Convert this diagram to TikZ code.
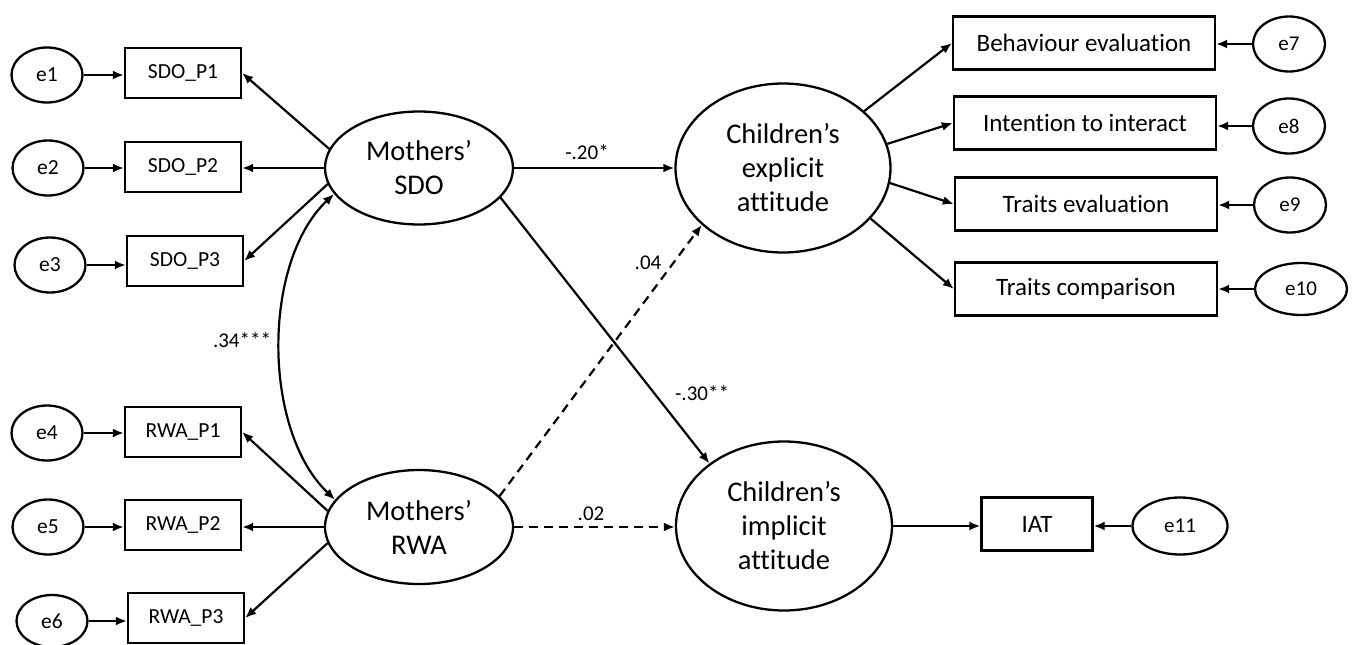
\documentclass[tikz,border=0pt]{standalone}
\usepackage{fontspec}
\setmainfont{Carlito}[Ligatures=NoCommon]
\usetikzlibrary{shapes.geometric,arrows.meta}
\tikzset{
  lat/.style={ellipse,draw,line width=2.3pt,inner sep=0pt,align=center,font=\fontsize{28.5}{34}\selectfont},
  err/.style={ellipse,draw,line width=2.3pt,inner sep=0pt,minimum width=71pt,minimum height=55pt,font=\fontsize{21.5}{25}\selectfont},
  obs/.style={rectangle,draw,line width=2.3pt,inner sep=0pt,minimum width=116pt,minimum height=50pt,font=\fontsize{21.5}{25}\selectfont},
  big/.style={rectangle,draw,line width=2.3pt,inner sep=0pt,minimum width=262pt,minimum height=53pt,font=\fontsize{25}{29}\selectfont},
  arr/.style={line width=2.2pt,-{Latex[length=11pt,width=9pt]}},
  darr/.style={line width=2.2pt,{Latex[length=11pt,width=9pt]}-{Latex[length=11pt,width=9pt]}},
  dsh/.style={arr,dash pattern=on 9pt off 6pt},
  lbl/.style={inner sep=0pt,font=\fontsize{21}{24}\selectfont}
}
\begin{document}
\begin{tikzpicture}[x=1pt,y=-1pt]
\useasboundingbox (0,0) rectangle (1355,645);
% latent variables
\node[lat,minimum width=188pt,minimum height=113pt] (sdo) at (419,168) {Mothers’\\SDO};
\node[lat,minimum width=188pt,minimum height=114pt] (rwa) at (419,527) {Mothers’\\RWA};
\node[lat,minimum width=215pt,minimum height=169pt] (exp) at (783,168) {Children’s\\explicit\\attitude};
\node[lat,minimum width=216pt,minimum height=169pt] (imp) at (784,526) {Children’s\\implicit\\attitude};
% indicators left
\node[obs] (p1) at (183,73) {SDO\_P1};
\node[obs] (p2) at (183,167) {SDO\_P2};
\node[obs] (p3) at (185,261) {SDO\_P3};
\node[obs] (r1) at (183,432) {RWA\_P1};
\node[obs] (r2) at (183,525) {RWA\_P2};
\node[obs] (r3) at (186,618) {RWA\_P3};
% errors left
\node[err] (e1) at (47,75) {e1};
\node[err] (e2) at (48,168) {e2};
\node[err] (e3) at (50,265) {e3};
\node[err] (e4) at (47,433) {e4};
\node[err] (e5) at (48,527) {e5};
\node[err,minimum height=52pt] (e6) at (52,621) {e6};
% indicators right
\node[big] (b1) at (1084,43) {Behaviour evaluation};
\node[big] (b2) at (1085,123) {Intention to interact};
\node[big] (b3) at (1086,204) {Traits evaluation};
\node[big] (b4) at (1086,289) {Traits comparison};
\node[big,minimum width=111pt] (iat) at (1037,524) {IAT};
% errors right
\node[err,minimum width=72pt,font=\fontsize{21}{24}\selectfont] (e7) at (1289,44) {e7};
\node[err,minimum width=72pt,font=\fontsize{21}{24}\selectfont] (e8) at (1289,126) {e8};
\node[err,minimum width=72pt,font=\fontsize{21}{24}\selectfont] (e9) at (1290,205) {e9};
\node[err,minimum width=92pt,minimum height=52pt,font=\fontsize{21}{24}\selectfont] (e10) at (1301,289) {e10};
\node[err,minimum width=95pt,minimum height=57pt,font=\fontsize{21}{24}\selectfont] (e11) at (1180,526) {e11};
% error arrows left
\foreach \e/\b in {e1/p1,e2/p2,e3/p3,e4/r1,e5/r2,e6/r3}
  \draw[arr] (\e.east) -- (\e.east -| \b.west);
% error arrows right
\foreach \e/\b in {e7/b1,e8/b2,e9/b3,e10/b4,e11/iat}
  \draw[arr] (\e.west) -- (\e.west -| \b.east);
% loadings
\draw[arr] (sdo.168) -- (p1.east);
\draw[arr] (sdo.west) -- (sdo.west -| p2.east);
\draw[arr] (sdo.190) -- (p3.east);
\draw[arr] (rwa.170) -- (r1.east);
\draw[arr] (rwa.west) -- (rwa.west -| r2.east);
\draw[arr] (rwa.190) -- (r3.east);
\draw[arr] (exp.35) -- (b1.west);
\draw[arr] (exp.13) -- (b2.west);
\draw[arr] (exp.-8) -- (b3.west);
\draw[arr] (exp.-30) -- (b4.west);
\draw[arr] (imp.east) -- (imp.east -| iat.west);
% covariance
\draw[darr] (sdo.197) .. controls (262,262) and (262,430) .. (rwa.162);
% structural paths
\draw[arr] (sdo.east) -- (sdo.east -| exp.west);
\draw[arr] (sdo.-20) -- (imp.140);
\draw[dsh] (rwa.21) -- (exp.215);
\draw[dsh] (rwa.east) -- (rwa.east -| imp.west);
% labels
\node[lbl] (l1) at (587,152) {-.20*};
\node[lbl] (l2) at (648,263) {.04};
\node[lbl] (l3) at (702,393) {-.30**};
\node[lbl] (l4) at (591,514) {.02};
\node[lbl] (l5) at (242,340) {.34***};
\end{tikzpicture}
\end{document}
